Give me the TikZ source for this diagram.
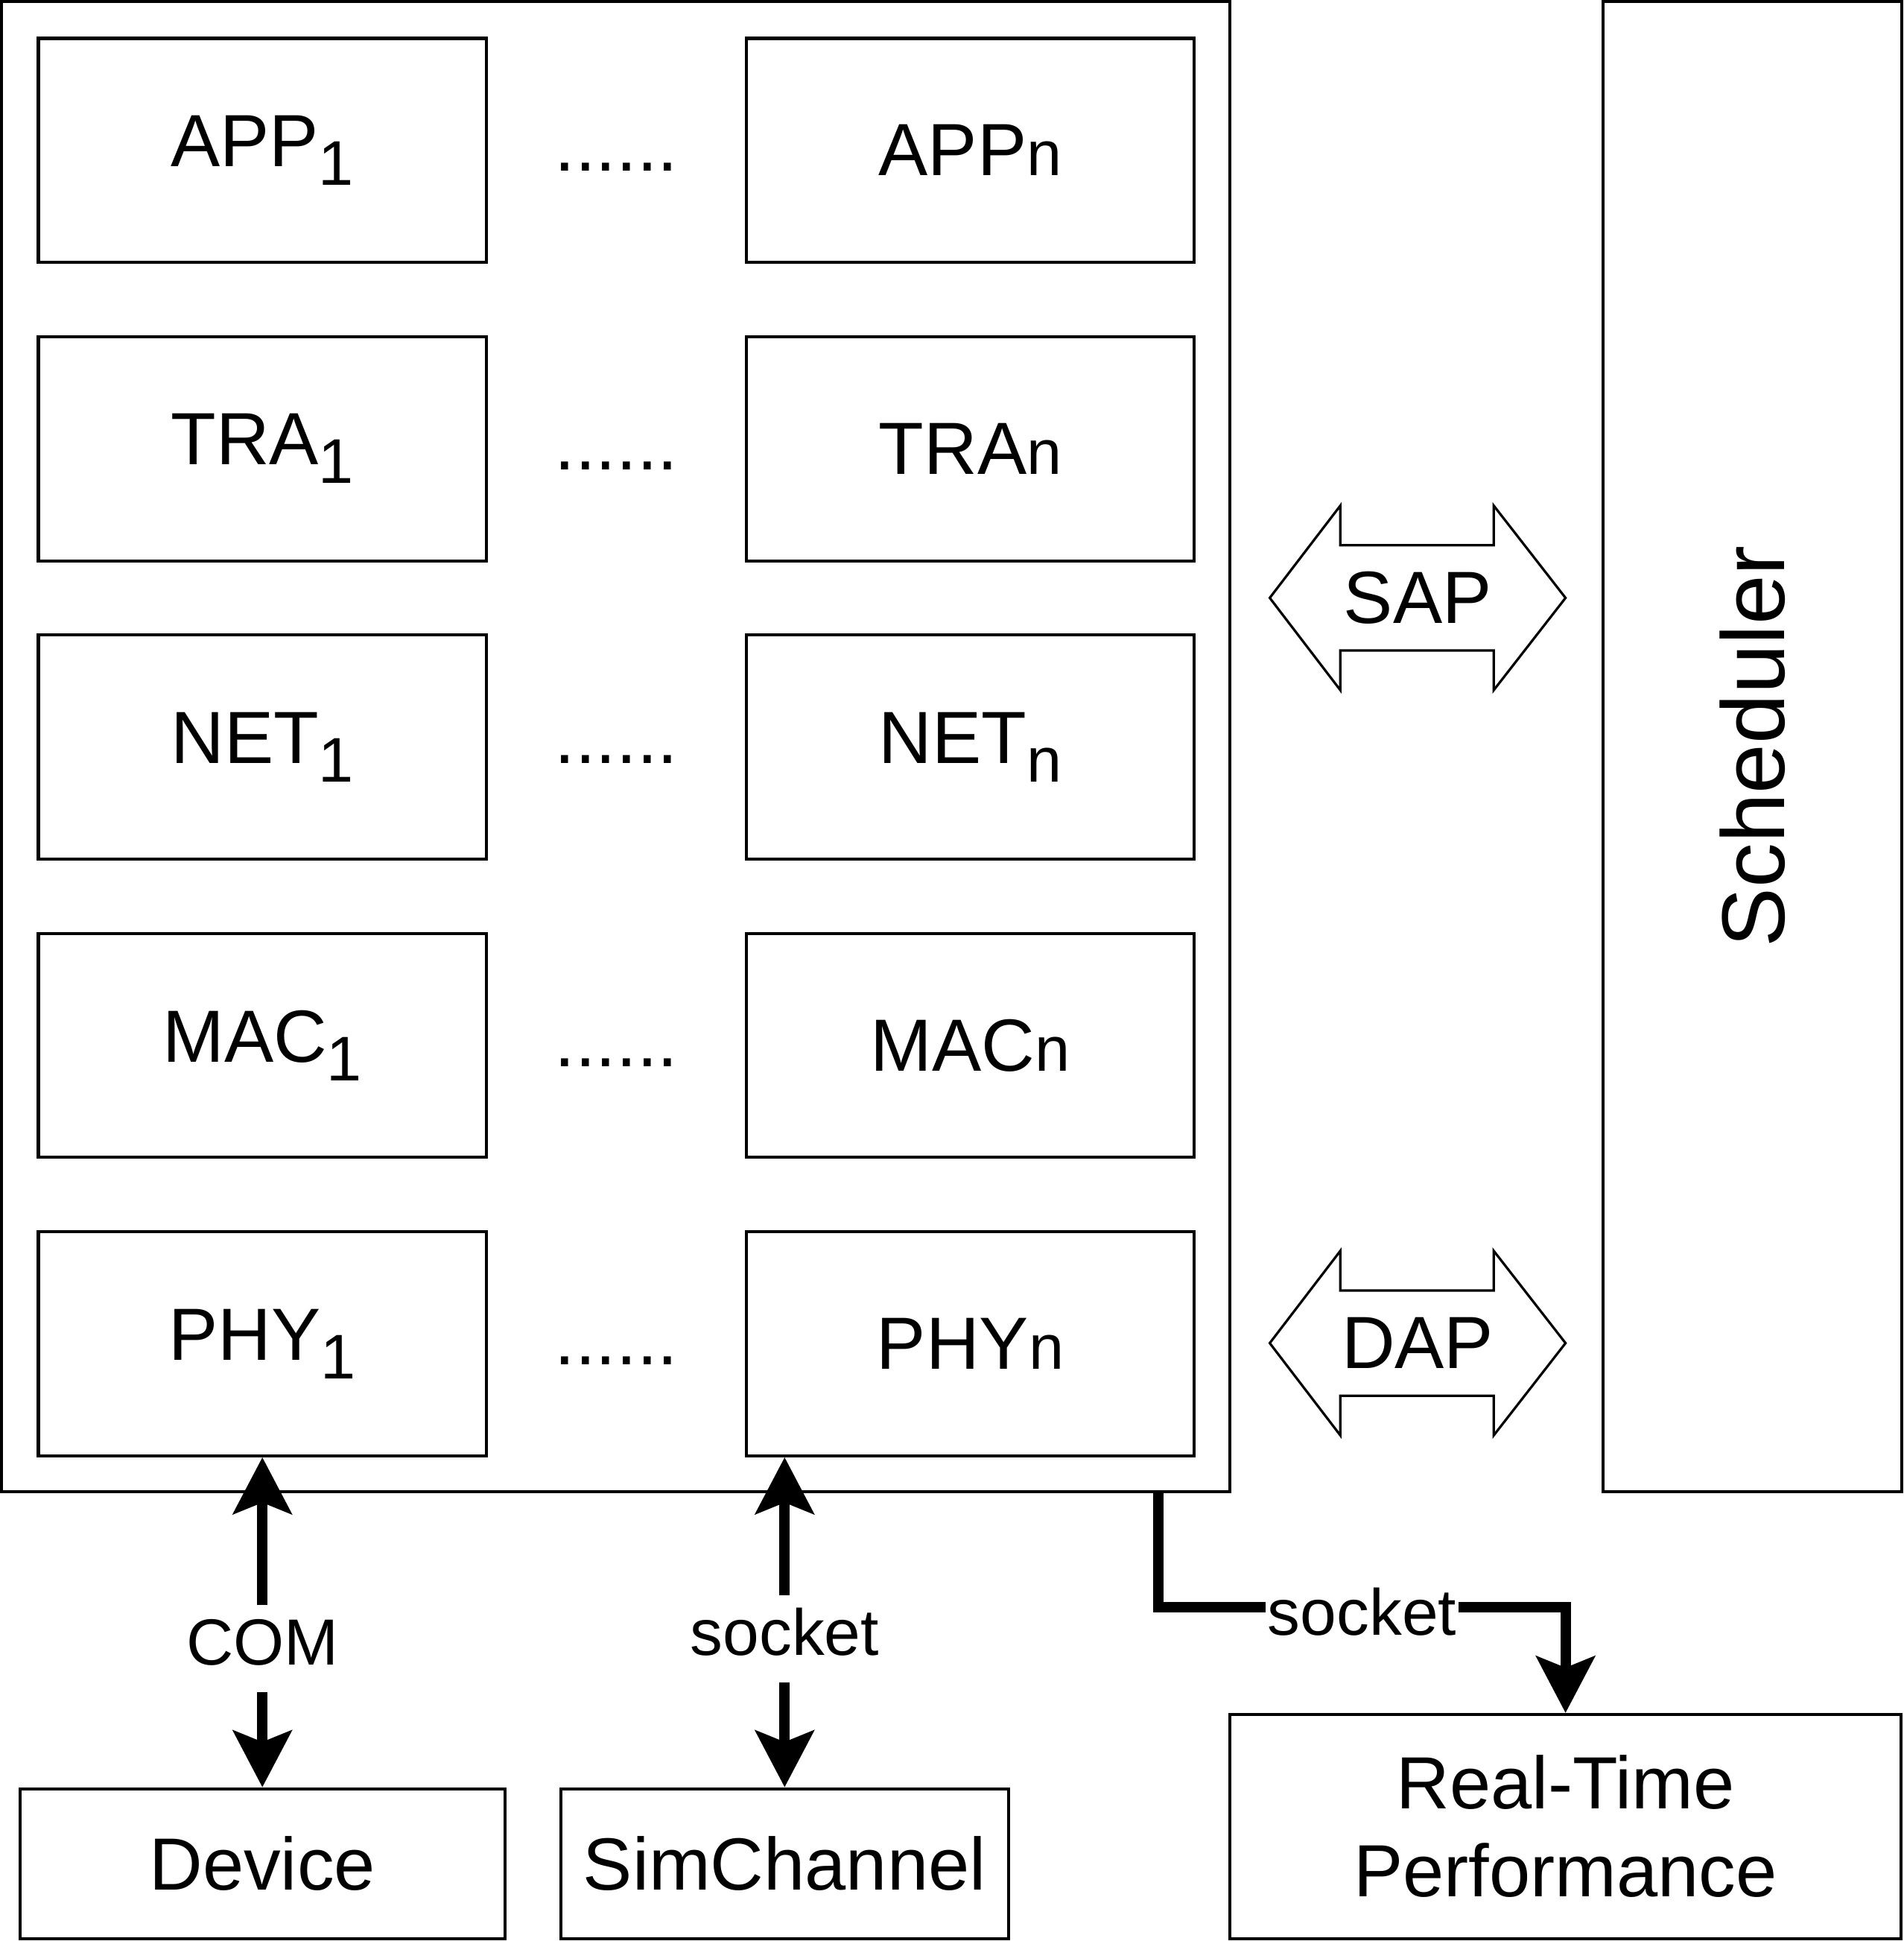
\documentclass[tikz,border=0pt]{standalone}
\usepackage{fontspec}
\setmainfont{Liberation Sans}
\usepackage{tikz}
\usetikzlibrary{calc}
\usetikzlibrary{arrows.meta}

\newcommand{\lowsub}[1]{\raisebox{-4.3pt}{\fontsize{14.5}{14.5}\selectfont #1}}
\newcommand{\smalln}{{\fontsize{14.5}{14.5}\selectfont n}}

\begin{document}
\begin{tikzpicture}[>={Stealth[length=13pt,width=13.4pt,inset=2.6pt]}]

		\tikzstyle{frame} = [draw, line width=0.7pt, inner sep=0pt, font=\fontsize{17}{20.2}\selectfont]
		\tikzstyle{layer} = [frame, minimum width=3.62cm, minimum height=1.81cm]
		\tikzstyle{dots}  = [inner sep=0pt, font=\fontsize{17}{20}\selectfont]
		\tikzstyle{ap}    = [inner sep=0pt, font=\fontsize{17}{20}\selectfont]
		\tikzstyle{dbl}   = [draw, line width=0.55pt, line join=miter]
		\tikzstyle{link}  = [line width=2.4pt]
		\tikzstyle{lbl}   = [fill=white, inner xsep=0.5pt, inner ysep=2.5pt, text height=11.3pt, text depth=3.8pt, font=\fontsize{15}{18}\selectfont]
		\useasboundingbox (0,0) rectangle (15.38,-15.68);
		%%Stack
		\node [frame, minimum width=9.93cm, minimum height=12.04cm](stack) at (4.975,-6.03) {};
		%%Layers
		\node [layer](app1) at (2.12,-1.215) {APP\lowsub{1}};
		\node [layer](appn) at ($(app1) + (5.72, 0)$) {APP\smalln};
		\node [layer](tra1) at ($(app1) + (0, -2.41)$) {TRA\lowsub{1}};
		\node [layer](tran) at ($(tra1) + (5.72, 0)$) {TRA\smalln};
		\node [layer](net1) at ($(tra1) + (0, -2.41)$) {NET\lowsub{1}};
		\node [layer](netn) at ($(net1) + (5.72, 0)$) {NET\lowsub{n}};
		\node [layer](mac1) at ($(net1) + (0, -2.41)$) {MAC\lowsub{1}};
		\node [layer](macn) at ($(mac1) + (5.72, 0)$) {MAC\smalln};
		\node [layer](phy1) at ($(mac1) + (0, -2.41)$) {PHY\lowsub{1}};
		\node [layer](phyn) at ($(phy1) + (5.72, 0)$) {PHY\smalln};
		%%Dots
		\node [dots, anchor=base](d1) at ($(app1.base)!0.5!(appn.base)$) {......};
		\node [dots, anchor=base](d2) at ($(tra1.base)!0.5!(tran.base)$) {......};
		\node [dots, anchor=base](d3) at ($(net1.base)!0.5!(netn.base)$) {......};
		\node [dots, anchor=base](d4) at ($(mac1.base)!0.5!(macn.base)$) {......};
		\node [dots, anchor=base](d5) at ($(phy1.base)!0.5!(phyn.base)$) {......};
		%%Scheduler
		\node [frame, rotate=90, minimum width=12.04cm, minimum height=2.41cm, font=\fontsize{20.5}{24}\selectfont](sched) at (14.16,-6.03) {Scheduler};
		%%Access points
		\node [ap](sap) at (11.455,-4.83) {SAP};
		\node [ap](dap) at (11.455,-10.85) {DAP};
		\draw [dbl] ($(sap) + (-1.195, 0)$) -- ++(0.57,0.745) -- ++(0,-0.32) -- ++(1.24,0) -- ++(0,0.32) -- ++(0.58,-0.745) -- ++(-0.58,-0.745) -- ++(0,0.32) -- ++(-1.24,0) -- ++(0,-0.32) -- cycle;
		\draw [dbl] ($(dap) + (-1.195, 0)$) -- ++(0.57,0.745) -- ++(0,-0.32) -- ++(1.24,0) -- ++(0,0.32) -- ++(0.58,-0.745) -- ++(-0.58,-0.745) -- ++(0,0.32) -- ++(-1.24,0) -- ++(0,-0.32) -- cycle;
		%%Outside
		\node [frame, minimum width=3.92cm, minimum height=1.21cm](device) at (2.12,-15.055) {Device};
		\node [frame, minimum width=3.62cm, minimum height=1.21cm](simchan) at (6.34,-15.055) {SimChannel};
		\node [frame, minimum width=5.42cm, minimum height=1.81cm, align=center](rtp) at (12.65,-14.755) {Real-Time\\Performance};
		%%Edges
		\draw [link, <->] (phy1.south) -- node[lbl, pos=0.58]{COM} (device.north);
		\draw [link, <->] (simchan.north |- phyn.south) -- node[lbl, pos=0.55]{socket} (simchan.north);
		\coordinate (out) at ($(stack.south east) + (-0.59, 0)$);
		\draw [link, ->] (out) -- ++(0,-0.92) -| node[lbl, pos=0.25, yshift=-2.7pt]{socket} (rtp.north);
	\end{tikzpicture}
\end{document}
